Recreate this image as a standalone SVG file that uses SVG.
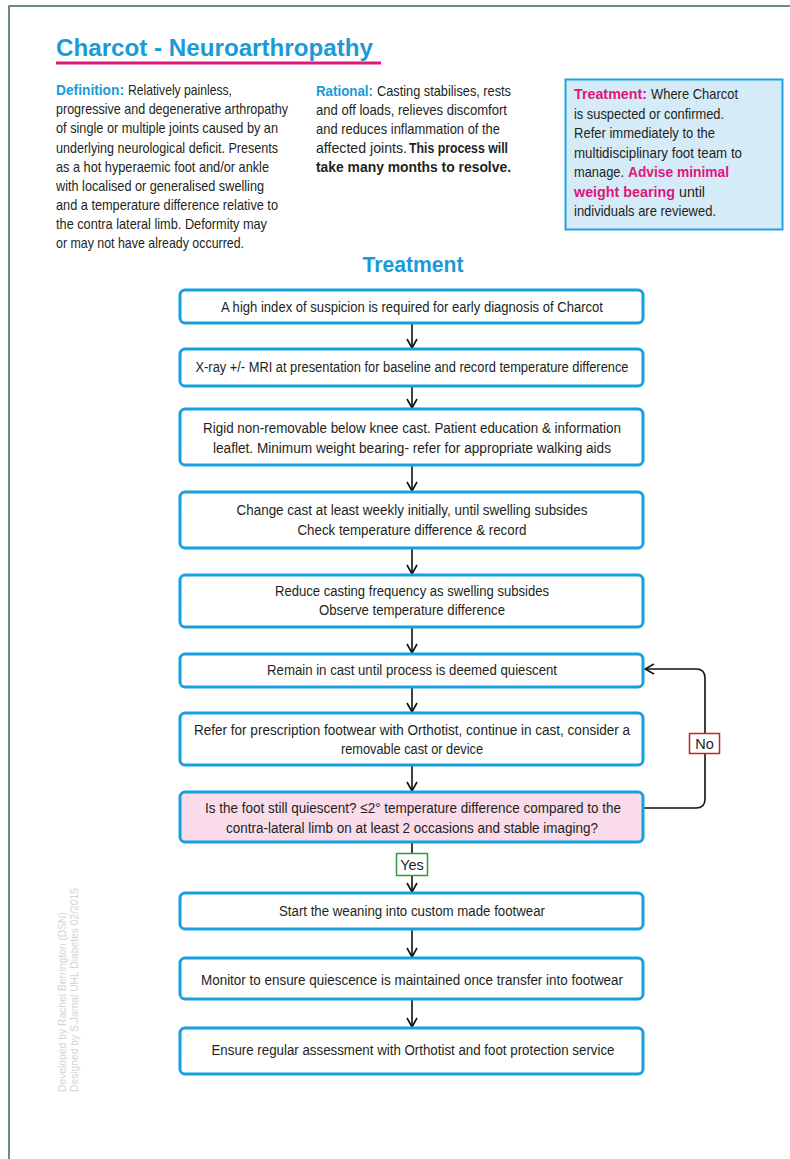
<svg xmlns="http://www.w3.org/2000/svg" width="790" height="1159" viewBox="0 0 790 1159">
<style>
text{font-family:"Liberation Sans",Arial,sans-serif;fill:#231f20}
.t{font-size:15px}
.bt{font-size:15.5px;text-anchor:middle}
.cy{fill:#1a9ad6;font-weight:bold}
.mg{fill:#e0157d;font-weight:bold}
.b{font-weight:bold}
.box{fill:#fff;stroke:#16a0e0;stroke-width:3}
.pink{fill:#f9dbea}
.arr{stroke:#111;stroke-width:1.6;fill:none}
.wm{font-size:11.5px;fill:#d4d4d4}
</style>
<defs>
<marker id="ah" viewBox="0 0 12 12" refX="11" refY="6" markerWidth="12" markerHeight="12" markerUnits="userSpaceOnUse" orient="auto">
<path d="M2,1 L11,6 L2,11" fill="none" stroke="#111" stroke-width="1.6"/>
</marker>
</defs>
<rect width="790" height="1159" fill="#fff"/>
<path d="M9,1159 V6 H790" fill="none" stroke="#3f6464" stroke-width="1.5"/>

<g id="header">
<text x="56" y="56" style="font-size:23.5px;font-weight:bold;fill:#1a9ad6" textLength="317" lengthAdjust="spacingAndGlyphs">Charcot - Neuroarthropathy</text>
<rect x="56" y="61.5" width="325" height="3" fill="#e0157d"/>
</g>

<g id="definition">
<text x="56" y="95" class="t cy" textLength="68" lengthAdjust="spacingAndGlyphs">Definition:</text>
<text x="128" y="95" class="t" textLength="104" lengthAdjust="spacingAndGlyphs">Relatively painless,</text>
<text x="56" y="114" class="t" textLength="232" lengthAdjust="spacingAndGlyphs">progressive and degenerative arthropathy</text>
<text x="56" y="133" class="t" textLength="222" lengthAdjust="spacingAndGlyphs">of single or multiple joints caused by an</text>
<text x="56" y="153" class="t" textLength="222" lengthAdjust="spacingAndGlyphs">underlying neurological deficit. Presents</text>
<text x="56" y="172" class="t" textLength="213" lengthAdjust="spacingAndGlyphs">as a hot hyperaemic foot and/or ankle</text>
<text x="56" y="191" class="t" textLength="208" lengthAdjust="spacingAndGlyphs">with localised or generalised swelling</text>
<text x="56" y="210" class="t" textLength="222" lengthAdjust="spacingAndGlyphs">and a temperature difference relative to</text>
<text x="56" y="229" class="t" textLength="211" lengthAdjust="spacingAndGlyphs">the contra lateral limb. Deformity may</text>
<text x="56" y="248" class="t" textLength="188" lengthAdjust="spacingAndGlyphs">or may not have already occurred.</text>
</g>

<g id="rational">
<text x="316" y="96" class="t cy" textLength="57" lengthAdjust="spacingAndGlyphs">Rational:</text>
<text x="377" y="96" class="t" textLength="134" lengthAdjust="spacingAndGlyphs">Casting stabilises, rests</text>
<text x="316" y="115" class="t" textLength="191" lengthAdjust="spacingAndGlyphs">and off loads, relieves discomfort</text>
<text x="316" y="134" class="t" textLength="184" lengthAdjust="spacingAndGlyphs">and reduces inflammation of the</text>
<text x="316" y="153" class="t" textLength="91" lengthAdjust="spacingAndGlyphs">affected joints.</text>
<text x="409" y="153" class="t b" textLength="99" lengthAdjust="spacingAndGlyphs">This process will</text>
<text x="316" y="172" class="t b" textLength="195" lengthAdjust="spacingAndGlyphs">take many months to resolve.</text>
</g>

<g id="treatment-note">
<rect x="565.5" y="79.5" width="217" height="150" fill="#d5ebf8" stroke="#22a3e0" stroke-width="2"/>
<text x="574" y="99" class="t mg" textLength="73" lengthAdjust="spacingAndGlyphs">Treatment:</text>
<text x="651" y="99" class="t" textLength="87" lengthAdjust="spacingAndGlyphs">Where Charcot</text>
<text x="574" y="119" class="t" textLength="150" lengthAdjust="spacingAndGlyphs">is suspected or confirmed.</text>
<text x="574" y="138" class="t" textLength="141" lengthAdjust="spacingAndGlyphs">Refer immediately to the</text>
<text x="574" y="158" class="t" textLength="168" lengthAdjust="spacingAndGlyphs">multidisciplinary foot team to</text>
<text x="574" y="177" class="t" textLength="50" lengthAdjust="spacingAndGlyphs">manage.</text>
<text x="628" y="177" class="t mg" textLength="101" lengthAdjust="spacingAndGlyphs">Advise minimal</text>
<text x="574" y="197" class="t mg" textLength="101" lengthAdjust="spacingAndGlyphs">weight bearing</text>
<text x="679" y="197" class="t" textLength="26" lengthAdjust="spacingAndGlyphs">until</text>
<text x="574" y="216" class="t" textLength="142" lengthAdjust="spacingAndGlyphs">individuals are reviewed.</text>
</g>

<g id="treatment-heading">
<text x="413" y="272" style="font-size:22px;font-weight:bold;fill:#1a9ad6;text-anchor:middle" textLength="101" lengthAdjust="spacingAndGlyphs">Treatment</text>
</g>

<g id="connectors">
<line class="arr" x1="412" y1="323" x2="412" y2="348" marker-end="url(#ah)"/>
<line class="arr" x1="412" y1="386" x2="412" y2="408" marker-end="url(#ah)"/>
<line class="arr" x1="412" y1="465" x2="412" y2="491" marker-end="url(#ah)"/>
<line class="arr" x1="412" y1="548" x2="412" y2="574" marker-end="url(#ah)"/>
<line class="arr" x1="412" y1="627" x2="412" y2="653" marker-end="url(#ah)"/>
<line class="arr" x1="412" y1="687" x2="412" y2="712" marker-end="url(#ah)"/>
<line class="arr" x1="412" y1="765" x2="412" y2="791" marker-end="url(#ah)"/>
<line class="arr" x1="412" y1="842" x2="412" y2="892" marker-end="url(#ah)"/>
<line class="arr" x1="412" y1="929" x2="412" y2="957" marker-end="url(#ah)"/>
<line class="arr" x1="412" y1="999" x2="412" y2="1027" marker-end="url(#ah)"/>
<path class="arr" d="M644,808 H696 Q705,808 705,799 V678 Q705,669 696,669 H645" marker-end="url(#ah)"/>
<g id="label-no">
<rect x="689.5" y="733.5" width="30" height="20" fill="#fff" stroke="#c8202b" stroke-width="1.5"/>
<text x="704.5" y="749" style="font-size:14.5px;text-anchor:middle">No</text>
</g>
<g id="label-yes">
<rect x="396.5" y="853.5" width="31" height="22" fill="#fff" stroke="#2e9a3a" stroke-width="1.5"/>
<text x="412" y="870" style="font-size:14.5px;text-anchor:middle">Yes</text>
</g>
</g>

<g id="n1"><rect class="box" x="180" y="290" width="463" height="33" rx="5"/>
<text class="bt" x="412" y="312" textLength="382" lengthAdjust="spacingAndGlyphs">A high index of suspicion is required for early diagnosis of Charcot</text></g>

<g id="n2"><rect class="box" x="180" y="349" width="463" height="37" rx="5"/>
<text class="bt" x="412" y="372" textLength="433" lengthAdjust="spacingAndGlyphs">X-ray +/-  MRI at presentation for baseline and record temperature difference</text></g>

<g id="n3"><rect class="box" x="180" y="409" width="463" height="56" rx="5"/>
<text class="bt" x="412" y="433" textLength="418" lengthAdjust="spacingAndGlyphs">Rigid non-removable below knee cast. Patient education &amp; information</text>
<text class="bt" x="412" y="453" textLength="398" lengthAdjust="spacingAndGlyphs">leaflet. Minimum weight bearing- refer for appropriate walking aids</text></g>

<g id="n4"><rect class="box" x="180" y="492" width="463" height="56" rx="5"/>
<text class="bt" x="412" y="515" textLength="351" lengthAdjust="spacingAndGlyphs">Change cast at least weekly initially, until swelling subsides</text>
<text class="bt" x="412" y="535" textLength="229" lengthAdjust="spacingAndGlyphs">Check temperature difference &amp; record</text></g>

<g id="n5"><rect class="box" x="180" y="575" width="463" height="52" rx="5"/>
<text class="bt" x="412" y="596" textLength="274" lengthAdjust="spacingAndGlyphs">Reduce casting frequency as swelling subsides</text>
<text class="bt" x="412" y="615" textLength="186" lengthAdjust="spacingAndGlyphs">Observe temperature difference</text></g>

<g id="n6"><rect class="box" x="180" y="654" width="463" height="33" rx="5"/>
<text class="bt" x="412" y="675" textLength="290" lengthAdjust="spacingAndGlyphs">Remain in cast until process is deemed quiescent</text></g>

<g id="n7"><rect class="box" x="180" y="713" width="463" height="52" rx="5"/>
<text class="bt" x="412" y="735" textLength="436" lengthAdjust="spacingAndGlyphs">Refer for prescription footwear with Orthotist, continue in cast, consider a</text>
<text class="bt" x="412" y="754" textLength="142" lengthAdjust="spacingAndGlyphs">removable cast or device</text></g>

<g id="n8"><rect class="box pink" x="180" y="792" width="463" height="50" rx="5"/>
<text class="bt" x="413" y="813" textLength="416" lengthAdjust="spacingAndGlyphs">Is the foot still quiescent? ≤2° temperature difference compared to the</text>
<text class="bt" x="412" y="833" textLength="372" lengthAdjust="spacingAndGlyphs">contra-lateral limb on at least 2 occasions and stable imaging?</text></g>

<g id="n9"><rect class="box" x="180" y="893" width="463" height="36" rx="5"/>
<text class="bt" x="412" y="916" textLength="266" lengthAdjust="spacingAndGlyphs">Start the weaning into custom made footwear</text></g>

<g id="n10"><rect class="box" x="180" y="958" width="463" height="41" rx="5"/>
<text class="bt" x="412" y="985" textLength="422" lengthAdjust="spacingAndGlyphs">Monitor to ensure quiescence is maintained once transfer into footwear</text></g>

<g id="n11"><rect class="box" x="180" y="1028" width="463" height="46" rx="5"/>
<text class="bt" x="413" y="1055" textLength="403" lengthAdjust="spacingAndGlyphs">Ensure regular assessment with Orthotist and foot protection service</text></g>

<g id="watermark">
<text class="wm" transform="translate(66,1092) rotate(-90)" textLength="180" lengthAdjust="spacingAndGlyphs">Developed by Rachel Berrington (DSN)</text>
<text class="wm" transform="translate(78,1092) rotate(-90)" textLength="204" lengthAdjust="spacingAndGlyphs">Designed by S.Jamal UHL Diabetes 02/2015</text>
</g>
</svg>
